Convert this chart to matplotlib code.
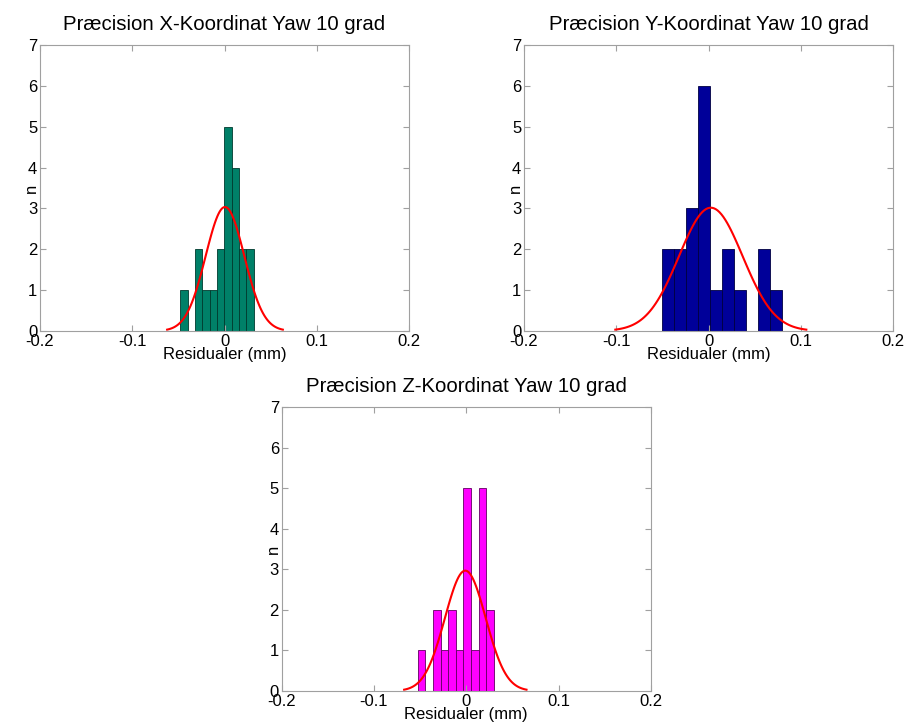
import numpy as np
import matplotlib.pyplot as plt

plt.rcParams['font.family'] = ['Liberation Sans', 'DejaVu Sans']

# bin counts (10 bins each)
counts_x = [1, 0, 2, 1, 1, 2, 5, 4, 2, 2]
counts_y = [2, 2, 3, 6, 1, 2, 1, 0, 2, 1]
counts_z = [1, 0, 2, 1, 2, 1, 5, 1, 5, 2]

# first bin edge and bin width (mm)
start_x, width_x = -0.048, 0.00795
start_y, width_y = -0.0509, 0.01305
start_z, width_z = -0.0524, 0.00822

# normal fit (mean, std) as drawn by histfit
mu_x, sd_x = 0.0005, 0.0209
mu_y, sd_y = 0.0025, 0.0345
mu_z, sd_z = -0.0010, 0.0221

titles = ['Præcision X-Koordinat Yaw 10 grad',
          'Præcision Y-Koordinat Yaw 10 grad',
          'Præcision Z-Koordinat Yaw 10 grad']
colors = ['#008068', '#000099', '#ff00ff']
edgecols = ['#003a2e', '#000040', '#600060']

fig = plt.figure(figsize=(9.07, 7.27), dpi=100)
rects = [[0.0441, 0.5447, 0.4069, 0.3934],
         [0.5777, 0.5447, 0.4069, 0.3934],
         [0.3106, 0.0495, 0.4069, 0.3906]]

data = [(counts_x, start_x, width_x, mu_x, sd_x),
        (counts_y, start_y, width_y, mu_y, sd_y),
        (counts_z, start_z, width_z, mu_z, sd_z)]

for i, (cnt, st, w, mu, sd) in enumerate(data):
    ax = fig.add_axes(rects[i])
    left = st + w * np.arange(len(cnt))
    ax.bar(left, cnt, width=w, align='edge', color=colors[i],
           edgecolor=edgecols[i], linewidth=0.6)
    xs = np.linspace(mu - 3 * sd, mu + 3 * sd, 100)
    pdf = sum(cnt) * w / (sd * np.sqrt(2 * np.pi)) * np.exp(-0.5 * ((xs - mu) / sd) ** 2)
    ax.plot(xs, pdf, color='#ff0000', linewidth=1.5)
    ax.set_xlim(-0.2, 0.2)
    ax.set_ylim(0, 7)
    ax.set_xticks([-0.2, -0.1, 0, 0.1, 0.2])
    ax.set_xticklabels(['-0.2', '-0.1', '0', '0.1', '0.2'])
    ax.set_yticks(range(8))
    ax.tick_params(direction='in', top=True, right=True, labelsize=12,
                   color='#a0a0a0', length=4, pad=2)
    for s in ax.spines.values():
        s.set_color('#a0a0a0')
        s.set_linewidth(0.8)
    ax.set_title(titles[i], fontsize=14.7, pad=11)
    ax.set_xlabel('Residualer (mm)', fontsize=12, labelpad=-1)
    ax.set_ylabel('n', fontsize=12, labelpad=-8)

fig.savefig('out.png', dpi=100)
